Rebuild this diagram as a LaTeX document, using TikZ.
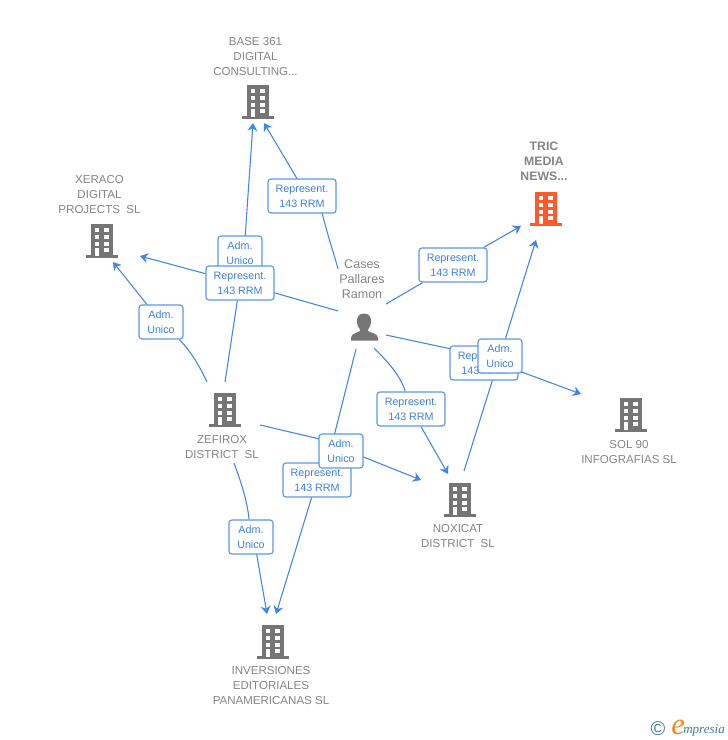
\documentclass[tikz,border=0pt]{standalone}
\usepackage{fontspec}
\setmainfont{Liberation Sans}
\newfontfamily\logofont{Liberation Serif}
\usetikzlibrary{arrows.meta,backgrounds}
\definecolor{edgeblue}{HTML}{3F86E6}
\definecolor{boxblue}{HTML}{5B98E6}
\definecolor{boxtext}{HTML}{3F82DC}
\definecolor{labgray}{HTML}{858585}
\definecolor{icongray}{HTML}{757575}
\definecolor{hot}{HTML}{FF5A2B}
\definecolor{logoteal}{HTML}{3F7F96}
\definecolor{logoorange}{HTML}{F08A1D}
\tikzset{
  x=0.75pt,y=-0.75pt,
  edge/.style={draw=edgeblue,line width=0.8pt},
  tip/.style={edge,-{Stealth[length=6pt,width=7.5pt,inset=2pt]}},
  tag/.style={draw=boxblue,line width=0.9pt,rounded corners=2.2pt,fill=white,text=boxtext,
     font=\fontsize{8.05pt}{11.25pt}\selectfont,align=center,inner sep=0pt,minimum height=25.5pt},
  rep/.style={tag,minimum width=51pt},
  adm/.style={tag,minimum width=33pt},
  lab/.style={text=labgray,font=\fontsize{8.65pt}{11.25pt}\selectfont,align=center,inner sep=0pt},
  boldlab/.style={lab,font=\fontsize{9.2pt}{11.4pt}\selectfont\bfseries},
  pics/tower/.style={code={
    \fill[#1] (-10.8,-16) rectangle (11.2,16);
    \fill[#1] (-15.8,14.8) rectangle (16,18);
    \foreach \yy in {-10.2,-3,3.7} {
      \fill[white] (-7.3,\yy-2) rectangle (-2.7,\yy+2);
      \fill[white] (2.3,\yy-2) rectangle (7,\yy+2);
    }
    \fill[white] (2.3,8.3) rectangle (7,12.3);
    \fill[white] (-7.3,7.5) rectangle (-2.7,15.7);
  }},
}
\begin{document}
\begin{tikzpicture}
\useasboundingbox (0,0) rectangle (728,740);
% building icons
\pic at (258,101) {tower=icongray};
\pic at (546,208) {tower=hot};
\pic at (102,240) {tower=icongray};
\pic at (225,409) {tower=icongray};
\pic at (460,499) {tower=icongray};
\pic at (631,414) {tower=icongray};
\pic at (273,641) {tower=icongray};
% person icon
\fill[icongray] (364,313.5) .. controls (358.5,313.5) and (356.5,318) .. (357,322)
  .. controls (357.5,326) and (358.5,327.5) .. (360,329.5) -- (360,331)
  .. controls (357,333) and (351,333.5) .. (351,338) -- (351,340.5) -- (378,340.5) -- (378,338)
  .. controls (378,333.5) and (371,333) .. (368,331) -- (368,329.5)
  .. controls (369.5,327.5) and (370.5,326) .. (371,322)
  .. controls (371.5,318) and (369.5,313.5) .. (364,313.5) -- cycle;
% labels
\node[lab] (base) at (255.5,56.5) {BASE 361\\DIGITAL\\CONSULTING...};
\node[boldlab] (tric) at (544,161.5) {TRIC\\MEDIA\\NEWS...};
\node[lab] (xeraco) at (99.5,194.5) {XERACO\\DIGITAL\\PROJECTS\ \ SL};
\node[lab,font=\fontsize{9.4pt}{11.25pt}\selectfont] (cases) at (362,279.5) {Cases\\Pallares\\Ramon};
\node[lab] (zefirox) at (222,447) {ZEFIROX\\DISTRICT\ \ SL};
\node[lab] (noxicat) at (458,536) {NOXICAT\\DISTRICT\ \ SL};
\node[lab] (sol) at (629,452) {SOL 90\\INFOGRAFIAS SL};
\node[lab] (inv) at (271,685.5) {INVERSIONES\\EDITORIALES\\PANAMERICANAS SL};
% tags
\node[adm] (a1) at (240,253) {Adm.\\Unico};
\node[rep] (r1) at (302,196) {Represent.\\143 RRM};
\node[rep] (r2) at (453,265) {Represent.\\143 RRM};
\node[rep] (r3) at (240,283) {Represent.\\143 RRM};
\node[adm] (a2) at (161,322) {Adm.\\Unico};
\node[rep] (r4) at (484,363) {Represent.\\143 RRM};
\node[adm] (a3) at (500,356) {Adm.\\Unico};
\node[rep] (r5) at (411,409) {Represent.\\143 RRM};
\node[rep] (r6) at (317,480) {Represent.\\143 RRM};
\node[adm] (a4) at (341,451) {Adm.\\Unico};
\node[adm] (a5) at (251,537) {Adm.\\Unico};
% free ends
\coordinate (c1) at (338,269); \coordinate (t1) at (264,123);
\coordinate (c2) at (386,304); \coordinate (t2) at (521,226);
\coordinate (c3) at (338,311); \coordinate (t3) at (140,256);
\coordinate (c4) at (386,335); \coordinate (t4) at (581,394);
\coordinate (c5) at (374,348); \coordinate (t5) at (448,474);
\coordinate (c6) at (356,349); \coordinate (t6) at (276,614);
\coordinate (z1) at (225,382); \coordinate (t7) at (253,123);
\coordinate (z2) at (207,382); \coordinate (t8) at (113,262);
\coordinate (z3) at (260,425); \coordinate (t9) at (421,480);
\coordinate (z4) at (234,463); \coordinate (t10) at (267,614);
\coordinate (n1) at (464,471); \coordinate (t11) at (536,240);
\begin{pgfonlayer}{background}
  % from the person
  \draw[edge] (c1) .. controls (333,250) and (327,235) .. ([xshift=12pt]r1.center);
  \draw[tip] ([xshift=4pt]r1.center) -- (t1);
  \draw[edge] (c2) -- (r2);
  \draw[tip] (r2) -- (t2);
  \draw[edge] (c3) -- (r3);
  \draw[tip] (r3) -- (t3);
  \draw[edge] (c4) -- ([yshift=5.25pt]r4.center);
  \draw[tip] ([yshift=3.75pt]r4.center) -- (t4);
  \draw[edge] (c5) .. controls (388,362) and (400,375) .. (r5);
  \draw[tip] (r5) -- (t5);
  \draw[edge] (c6) -- ([xshift=4.5pt]r6.center);
  \draw[tip] (r6) -- (t6);
  % from Zefirox
  \draw[edge] (z1) -- (r3);
  \draw[tip] ([xshift=3pt]a1.center) -- (t7);
  \draw[edge] (z2) .. controls (199,365) and (190,350) .. (a2);
  \draw[tip] (a2) -- (t8);
  \draw[edge] (z3) -- ([yshift=5.25pt]a4.center);
  \draw[tip] ([yshift=2.25pt]a4.center) -- (t9);
  \draw[edge] (z4) .. controls (241,482) and (247,500) .. (a5);
  \draw[tip] ([xshift=2pt]a5.center) -- (t10);
  % from Noxicat
  \draw[edge] (n1) -- (a3);
  \draw[tip] (a3) -- (t11);
\end{pgfonlayer}
% logo
\node[text=logoteal,inner sep=0pt,font=\fontsize{15pt}{15pt}\selectfont] (copy) at (658,729) {©};
\node[anchor=base west,inner sep=0pt,text=logoorange,font=\logofont\itshape\fontsize{23pt}{23pt}\selectfont] (elogo) at (671,734) {e};
\node[anchor=base west,inner sep=0pt,text=logoteal,font=\logofont\itshape\fontsize{9.8pt}{10pt}\selectfont] (mlogo) at (683,733) {mpresia};
\end{tikzpicture}
\end{document}
